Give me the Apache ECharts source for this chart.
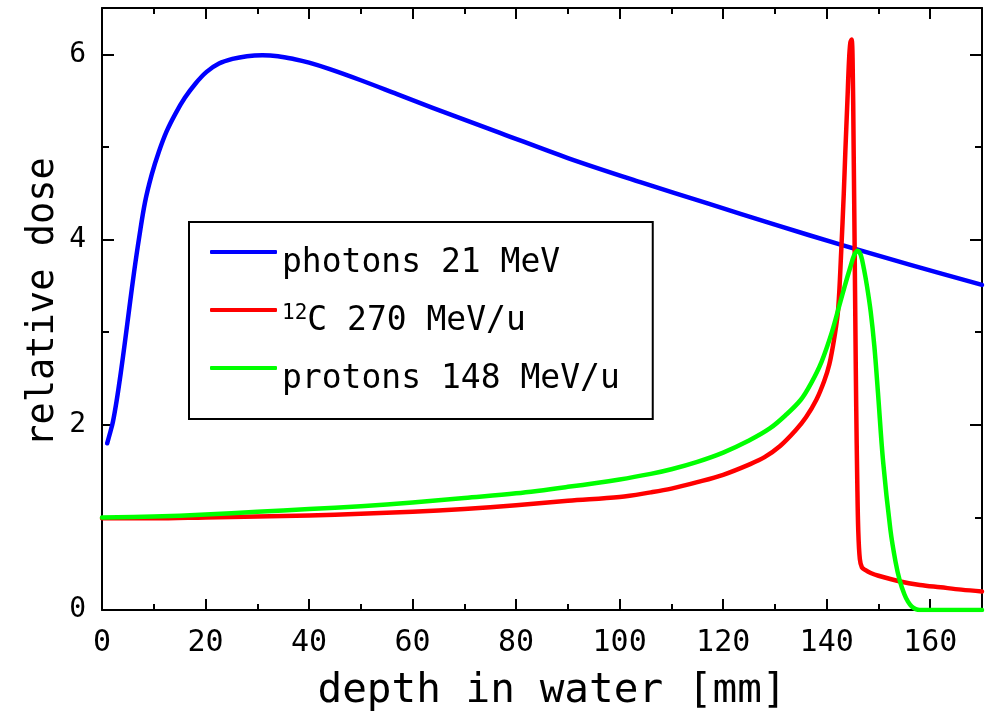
<!DOCTYPE html>
<html><head><meta charset="utf-8">
<script src="https://cdn.jsdelivr.net/npm/echarts@6/dist/echarts.min.js"></script>
<style>html,body{margin:0;padding:0;background:#fff}#c{width:987px;height:717px}</style>
</head><body><div id="c"></div><script>
const xTitle = 'depth in water [mm]';
const yTitle = 'relative dose';
const seriesNames = ['photons 21 MeV', '12C 270 MeV/u', 'protons 148 MeV/u'];
const legendLabels = ['photons 21 MeV', '{sup|12}C 270 MeV/u', 'protons 148 MeV/u'];
const seriesColors = ['#0000ff', '#ff0000', '#00ff00'];

const photonX = [1.0, 1.5, 2.1, 2.8, 3.6, 4.4, 5.3, 6.2, 7.2, 8.3, 9.6, 11.0, 12.5, 14.2, 16.0, 18.0, 20.2, 22.6, 25.2, 28.0, 31.0, 34.0, 37.0, 40.0, 44.0, 50.0, 57.0, 64.0, 77.0, 90.0, 104.0, 117.0, 130.0, 143.0, 156.0, 170.0];
const photonY = [1.80, 1.90, 2.03, 2.25, 2.55, 2.88, 3.27, 3.65, 4.03, 4.40, 4.70, 4.95, 5.17, 5.36, 5.53, 5.68, 5.81, 5.90, 5.95, 5.98, 5.99, 5.98, 5.95, 5.91, 5.84, 5.72, 5.57, 5.42, 5.15, 4.88, 4.62, 4.39, 4.16, 3.94, 3.73, 3.51];

const carbonX = [0, 10, 20, 30, 40, 50, 60, 70, 80, 90, 100, 106, 110, 115, 120, 125, 128, 131, 134, 136, 138, 139.5, 140.5, 141.5, 142.2, 142.8, 143.3, 143.6, 144.0, 144.3, 144.55, 144.8, 145.0, 145.2, 145.4, 145.55, 145.7, 145.9, 146.1, 146.4, 146.8, 147.5, 148.5, 150.0, 154.0, 158.0, 162.0, 166.0, 170.0];
const carbonY = [0.99, 0.99, 1.00, 1.01, 1.02, 1.04, 1.06, 1.09, 1.13, 1.18, 1.22, 1.27, 1.31, 1.38, 1.46, 1.57, 1.65, 1.77, 1.94, 2.08, 2.27, 2.47, 2.65, 2.95, 3.24, 3.87, 4.50, 4.95, 5.50, 5.92, 6.12, 6.16, 5.95, 5.00, 3.90, 3.00, 2.20, 1.40, 0.85, 0.55, 0.46, 0.43, 0.40, 0.37, 0.31, 0.27, 0.245, 0.22, 0.20];

const protonX = [0, 10, 20, 30, 40, 50, 60, 70, 80, 90, 100, 106, 110, 115, 120, 125, 129, 132, 135, 137, 139, 141, 142.5, 143.5, 144.5, 145.3, 146.0, 146.6, 147.2, 147.8, 148.5, 149.2, 149.9, 150.9, 152.3, 153.3, 154.1, 155.0, 155.7, 156.4, 157.2, 158.0, 170.0];
const protonY = [1.00, 1.01, 1.03, 1.06, 1.09, 1.12, 1.16, 1.21, 1.26, 1.33, 1.41, 1.47, 1.52, 1.60, 1.70, 1.83, 1.96, 2.10, 2.27, 2.45, 2.68, 3.00, 3.30, 3.50, 3.69, 3.83, 3.88, 3.83, 3.68, 3.49, 3.22, 2.85, 2.35, 1.60, 0.87, 0.52, 0.32, 0.17, 0.09, 0.04, 0.01, 0.00, 0.00];

const xMin = 0, xMax = 170, xMinorStep = 10, xMajorStep = 20;
const yMin = 0, yMax = 6.5, yMinorStep = 1, yMajorStep = 2;

const FONT = 'DejaVu Sans Mono';
const pairs = (xs, ys) => xs.map((x, i) => [x, ys[i]]);

function xAx(pos, step, len, main) {
  return {
    type: 'value', position: pos, min: xMin, max: xMax, interval: step, gridIndex: 0,
    axisLine: {show: main, onZero: false, lineStyle: {color: '#000', width: 2}},
    axisTick: {show: true, inside: true, length: len, lineStyle: {color: '#000', width: 2}},
    axisLabel: (main && pos === 'bottom') ? {
      show: true, margin: 18, color: '#000', fontFamily: FONT, fontSize: 30,
      formatter: v => (v % xMajorStep === 0 && v < xMax) ? String(v) : ''
    } : {show: false},
    splitLine: {show: false},
    name: (main && pos === 'bottom') ? xTitle : '',
    nameLocation: 'middle', nameGap: 61, nameMoveOverlap: false,
    nameTextStyle: {color: '#000', fontFamily: FONT, fontSize: 41, padding: [0, 0, 0, 20]}
  };
}
function yAx(pos, step, len, main) {
  return {
    type: 'value', position: pos, min: yMin, max: yMax, interval: step, gridIndex: 0,
    axisLine: {show: main, onZero: false, lineStyle: {color: '#000', width: 2}},
    axisTick: {show: true, inside: true, length: len, lineStyle: {color: '#000', width: 2}},
    axisLabel: (main && pos === 'left') ? {
      show: true, margin: 16, color: '#000', fontFamily: FONT, fontSize: 28,
      formatter: v => (v % yMajorStep === 0) ? String(v) : ''
    } : {show: false},
    splitLine: {show: false},
    name: (main && pos === 'left') ? yTitle : '',
    nameLocation: 'middle', nameGap: 40, nameMoveOverlap: false,
    nameTextStyle: {color: '#000', fontFamily: FONT, fontSize: 37, padding: [0, 0, 0, 14]}
  };
}

const chart = echarts.init(document.getElementById('c'), null, {renderer: 'canvas'});
const lineSeries = (name, data, color) => ({
  name, type: 'line', data, xAxisIndex: 0, yAxisIndex: 0,
  symbol: 'none', showSymbol: false, smooth: 0.35,
  lineStyle: {color, width: 4.5, cap: 'round', join: 'round'},
  itemStyle: {color}, emphasis: {disabled: true}
});
chart.setOption({
  animation: false,
  backgroundColor: '#fff',
  grid: {left: 102, right: 5, top: 8, bottom: 103, containLabel: false},
  xAxis: [xAx('bottom', xMinorStep, 6, true), xAx('bottom', xMajorStep, 11, false),
          xAx('top', xMinorStep, 6, true), xAx('top', xMajorStep, 11, false)],
  yAxis: [yAx('left', yMinorStep, 7, true), yAx('left', yMajorStep, 12, false),
          yAx('right', yMinorStep, 7, true), yAx('right', yMajorStep, 12, false)],
  legend: {
    show: true, orient: 'vertical', left: 189, top: 222,
    padding: [1, 33, 22, 21], itemGap: 0, itemWidth: 67, itemHeight: 4, itemTextGap: 19,
    icon: 'roundRect',
    borderColor: '#000', borderWidth: 2, backgroundColor: '#fff', selectedMode: false,
    data: seriesNames,
    formatter: name => legendLabels[seriesNames.indexOf(name)],
    textStyle: {
      color: '#000', fontFamily: FONT, fontSize: 33, lineHeight: 36, padding: [22, 0, 0, 0],
      rich: {sup: {fontFamily: FONT, fontSize: 21, lineHeight: 24, verticalAlign: 'top', color: '#000'}}
    }
  },
  series: [
    lineSeries(seriesNames[0], pairs(photonX, photonY), seriesColors[0]),
    lineSeries(seriesNames[1], pairs(carbonX, carbonY), seriesColors[1]),
    lineSeries(seriesNames[2], pairs(protonX, protonY), seriesColors[2])
  ]
});
</script></body></html>
